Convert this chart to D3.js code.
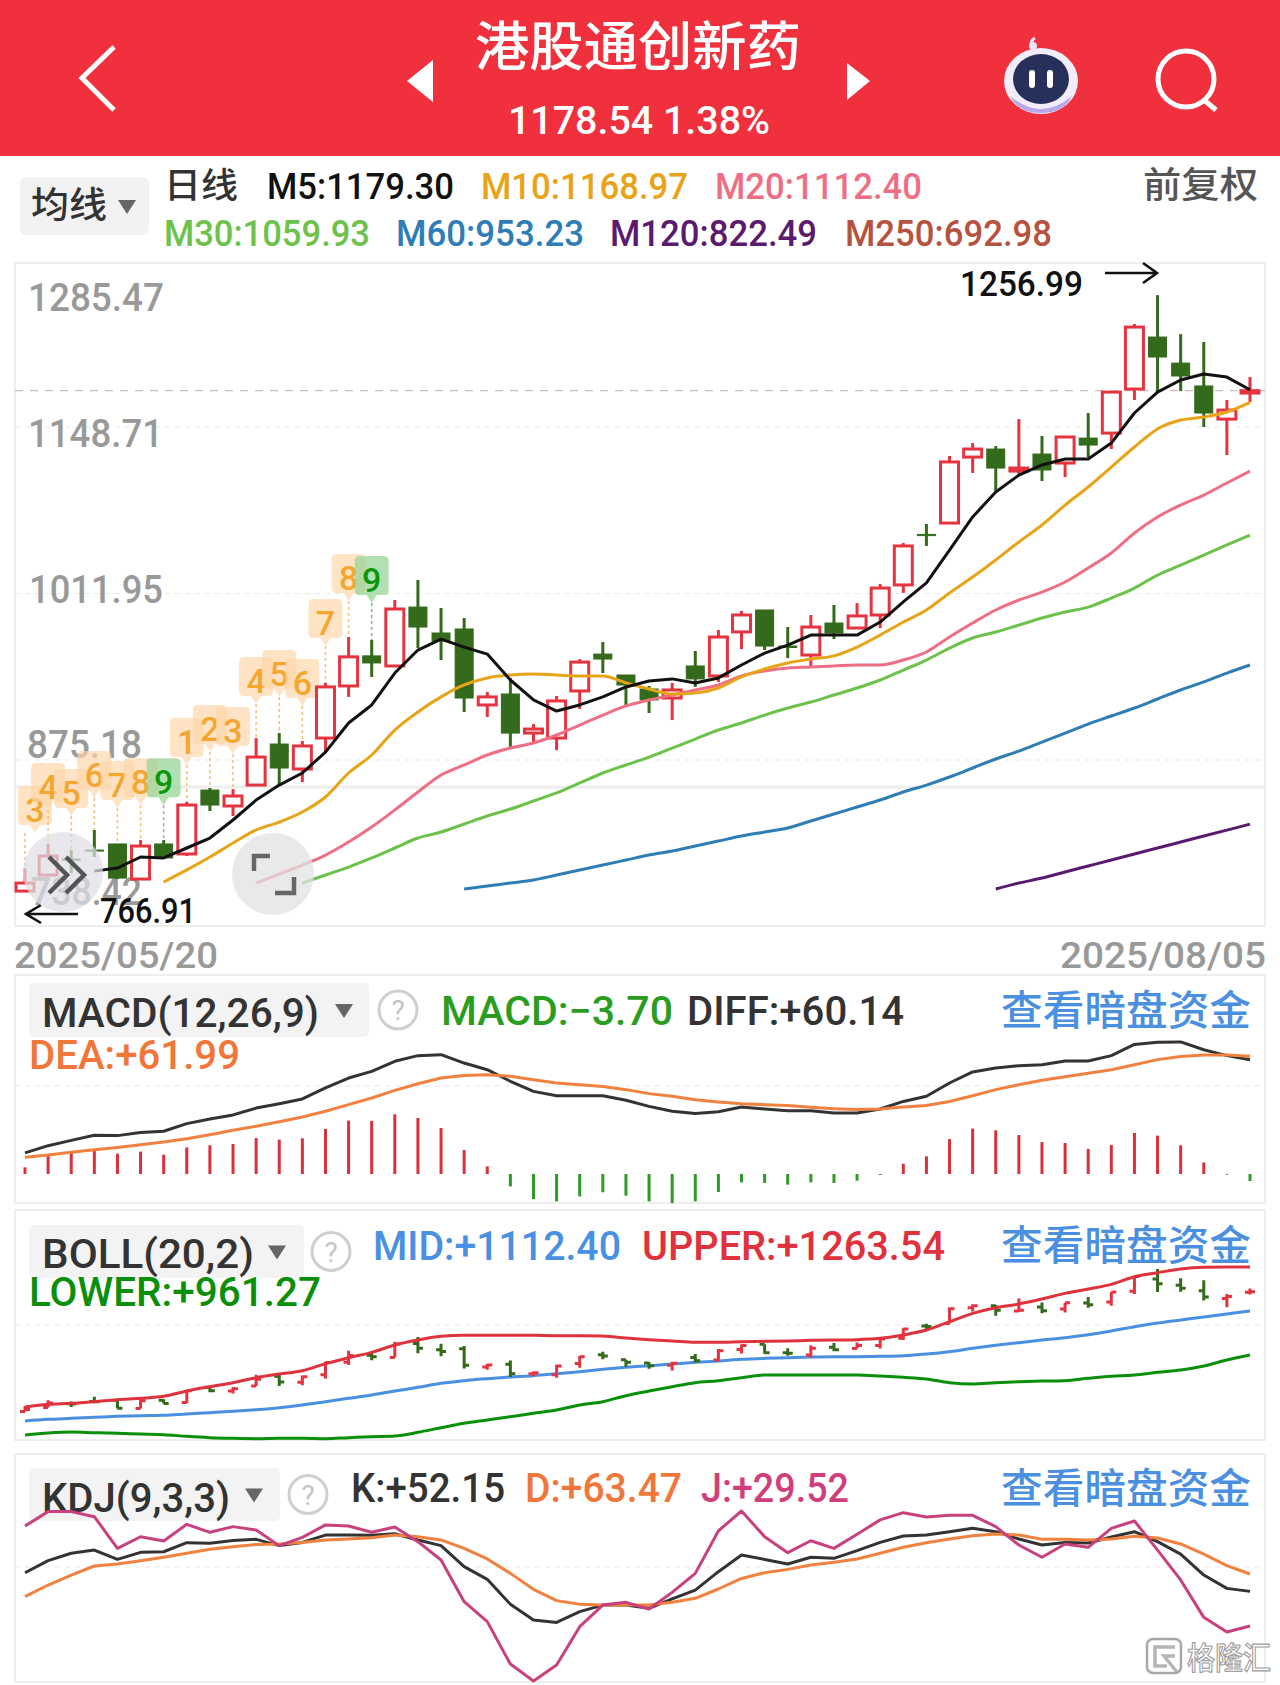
<!DOCTYPE html>
<html>
<head>
<meta charset="utf-8">
<script src="https://cdn.jsdelivr.net/npm/d3@7"></script>
<style>
  html, body { margin: 0; padding: 0; background: #fff; }
  svg { display: block; }
</style>
</head>
<body>
<svg id="canvas" width="1280" height="1685"></svg>
<script>
/************* Data **************/
var opens = [767.5,780.7,793.8,801.2,806.2,777.4,806.2,798.0,850.5,837.4,854.6,888.3,867.8,893.2,936.0,960.7,952.4,1000.8,979.5,982.8,920.4,929.4,897.3,893.2,931.9,962.2,945.0,933.5,926.1,952.4,944.2,980.4,998.4,968.8,961.4,987.7,983.6,994.3,1019.0,1060.5,1069.8,1124.0,1130.6,1112.5,1126.5,1119.1,1139.6,1143.7,1179.9,1222.6,1201.2,1182.4,1155.2,1176.6];
var highs = [786.4,806.2,801.2,817.7,806.2,809.4,809.4,840.7,852.2,851.3,893.2,897.3,890.8,938.5,976.2,973.8,1006.6,1023.0,1000.0,991.8,931.1,942.6,904.7,927.8,958.1,972.1,945.0,936.0,938.5,964.7,982.0,997.6,998.4,984.4,994.3,1002.5,1004.1,1019.8,1053.4,1069.0,1124.9,1135.5,1133.0,1155.2,1141.3,1140.5,1160.2,1177.4,1233.3,1256.99,1225.0,1218.5,1170.9,1189.7];
var lows = [766.91,780.7,782.3,795.5,777.5,777.4,794.7,796.3,833.3,829.2,854.6,854.6,857.0,880.9,927.0,943.4,952.4,967.1,957.3,914.6,910.5,885.8,889.1,883.3,917.2,946.6,920.4,913.8,908.0,935.2,939.3,966.3,965.5,958.9,952.4,974.5,983.6,983.6,1012.4,1051.0,1069.8,1110.9,1096.1,1109.2,1104.3,1107.6,1124.0,1130.6,1170.9,1177.4,1178.2,1148.7,1125.7,1169.2];
var closes = [774.1,796.3,793.0,800.4,778.2,804.5,794.7,838.2,838.2,845.6,877.6,868.6,886.7,935.2,959.9,954.9,999.2,984.4,972.9,926.1,927.0,897.3,900.6,923.7,955.6,958.1,936.8,924.5,932.7,941.8,976.2,994.3,968.8,967.6,984.4,979.5,993.5,1016.4,1051.0,1059.5,1120.0,1130.6,1115.0,1115.0,1113.4,1140.5,1133.9,1177.4,1230.8,1206.2,1190.6,1160.2,1162.6,1178.54];

// moving averages end on the last candle, the leading days are simply missing
var ma5 = [783.9,786.4,795.5,794.7,802.9,811.1,825.9,842.3,854.6,864.5,881.7,905.6,920.4,946.6,965.5,974.5,967.9,962.2,940.9,924.5,915.4,920.4,927.0,935.2,940.1,941.8,938.5,942.6,953.2,963.0,969.6,977.8,977.8,977.8,988.5,1005.0,1020.6,1047.6,1074.8,1095.3,1109.2,1117.5,1122.4,1122.4,1135.5,1160.2,1177.4,1187.3,1192.2,1189.7,1179.3];
var ma10 = [775.0,784.9,795.5,807.0,817.7,824.2,832.5,844.8,864.5,879.3,899.8,914.6,927.0,936.8,942.6,945.0,945.8,945.0,944.2,944.2,938.5,933.5,929.4,930.2,934.3,943.4,949.9,954.9,958.1,960.7,967.9,977.8,988.5,998.4,1012.4,1025.5,1039.5,1054.3,1068.2,1084.6,1099.4,1115.8,1132.3,1147.1,1154.4,1156.9,1161.0,1168.97];
var ma20 = [774.1,781.5,788.9,797.1,807.8,820.1,834.1,848.9,862.9,871.1,879.3,885.0,889.1,895.7,903.9,912.1,919.6,924.5,928.6,932.7,936.8,944.2,948.3,950.7,951.5,952.4,953.2,953.2,957.3,963.9,976.2,987.7,998.4,1006.6,1013.1,1021.4,1032.9,1045.2,1061.6,1074.8,1084.6,1092.8,1102.7,1112.4];
var ma30 = [774.1,780.7,787.2,794.7,802.9,811.1,816.0,822.6,829.2,834.9,841.5,848.1,856.3,864.5,871.1,877.6,885.0,892.4,899.8,905.6,912.1,917.9,922.8,928.6,934.3,940.9,949.1,957.3,967.1,975.4,980.3,986.0,991.8,996.7,1000.8,1008.2,1016.4,1027.1,1035.3,1043.5,1051.8,1059.93];
var ma60 = [769.2,771.7,774.1,776.6,780.7,784.9,788.9,793.0,797.1,800.4,804.5,808.6,812.7,816.0,819.3,825.1,830.8,836.6,842.3,848.9,854.6,861.2,868.6,876.0,882.5,889.9,897.3,904.7,911.3,917.9,925.3,932.7,939.3,946.6,953.23];
var ma120 = [769.2,774.1,778.2,783.2,788.1,793.0,798.0,802.9,807.8,812.7,817.6,822.49];

var priceTicks = [1148.71, 1011.95, 875.18];
var priceLabels = ["1285.47", "1148.71", "1011.95", "875.18", "738.42"];

// TD sequence tags: candle index, count, price level of the tag
var tdIndex = [0,1,2,3,4,5,6,7,8,9,10,11,12,13,14,15];
var tdCount = [3,4,5,6,7,8,9,1,2,3,4,5,6,7,8,9];
var tdLevel = [834.1,853.0,848.1,862.9,854.6,857.0,857.0,890.0,900.6,899.0,940.1,945.8,938.5,987.7,1024.7,1023.0];

var macdBars = [3.5,9.6,11.1,12.8,10.7,11.8,10.2,14.0,15.1,15.8,18.9,18.1,18.8,23.7,28.1,27.9,31.4,29.5,24.2,12.6,4.0,-6.5,-13.2,-14.4,-11.8,-9.6,-11.4,-14.4,-15.3,-14.4,-9.5,-4.4,-4.7,-5.6,-4.4,-4.7,-3.5,-0.5,5.4,9.3,18.4,23.9,23.0,20.5,16.8,16.3,13.2,15.3,21.6,20.2,15.1,6.1,-0.4,-3.7];
var diff = [11.1,14.9,17.7,20.4,20.2,21.9,22.5,26.5,28.9,31.1,34.7,37.0,39.5,45.3,50.5,54.0,59.3,62.3,62.8,58.4,54.9,48.8,43.5,41.2,41.2,41.2,38.8,35.6,33.0,31.8,32.8,35.3,34.2,33.3,33.3,32.1,32.1,34.2,38.2,40.9,47.9,53.7,55.8,57.0,57.5,59.5,59.5,62.3,68.2,69.3,69.5,65.4,62.3,60.14];
var dea = [8.8,10.0,11.4,12.8,14.0,15.4,16.8,18.6,20.7,23.0,25.1,27.5,30.0,33.0,36.5,40.0,44.0,47.5,50.5,51.9,52.3,51.4,49.6,47.9,47.0,46.1,44.4,42.3,40.9,39.1,37.9,37.0,36.5,36.0,35.1,34.4,33.9,34.2,35.3,36.1,38.2,41.2,44.4,47.0,49.3,51.2,53.0,54.9,57.5,60.2,61.8,62.6,62.6,61.99];

var bollUpper = [782.6,791.8,795.2,800.9,807.8,812.4,819.3,837.6,852.5,866.2,883.4,896.0,907.4,931.5,952.1,970.4,995.6,1012.8,1025.4,1028.8,1028.8,1028.8,1028.8,1027.7,1027.7,1026.5,1019.6,1013.9,1009.3,1004.8,1004.8,1007.1,1008.2,1009.3,1011.6,1012.8,1013.9,1018.5,1030.0,1047.1,1075.8,1104.4,1123.9,1136.4,1153.6,1173.1,1188.0,1204.0,1230.3,1244.1,1256.7,1262.4,1263.54,1263.54];
var bollMid = [734.5,740.2,743.7,747.1,750.5,752.8,754.0,758.6,763.1,767.7,773.4,780.3,789.5,800.9,812.4,823.8,837.6,850.2,863.9,873.1,879.9,885.7,890.3,897.1,904.0,912.0,918.9,924.6,930.3,936.1,940.6,946.4,949.8,952.1,954.4,955.5,955.5,956.7,959.0,964.7,972.7,984.1,994.5,1003.6,1012.8,1020.8,1031.1,1043.7,1058.6,1071.2,1081.5,1091.8,1102.1,1112.4];
var bollLower = [686.4,693.3,696.7,694.4,692.2,689.9,687.6,681.8,677.3,675.0,673.8,675.0,675.0,673.8,677.3,680.7,683.0,695.6,711.6,726.5,738.0,749.4,760.9,772.3,789.5,800.9,821.5,837.6,852.5,866.2,873.1,883.4,892.5,892.5,892.5,892.5,892.5,889.1,884.5,878.8,866.2,861.6,866.2,869.6,871.9,873.1,881.1,888.0,892.5,901.7,909.7,923.5,944.1,961.27];

var kdjK = [64.3,72.2,77.0,79.1,73.0,77.6,78.0,83.9,83.5,85.4,86.1,82.0,84.1,88.9,88.9,88.7,89.8,85.7,82.0,68.3,60.0,43.7,33.4,31.9,38.9,43.2,43.2,41.1,47.2,53.0,65.0,75.9,73.0,70.0,74.4,73.7,78.7,84.1,88.3,88.9,91.1,93.3,91.1,86.3,82.4,84.1,83.7,87.6,91.1,84.6,76.5,62.8,54.1,52.15];
var kdjD = [48.7,56.3,62.8,68.7,70.0,72.2,74.4,77.0,79.6,81.3,82.8,83.1,84.1,85.7,86.3,87.2,88.9,87.8,85.7,80.2,73.3,63.9,53.5,46.1,43.7,43.2,43.2,43.2,45.0,47.6,53.7,60.6,64.3,66.5,69.3,71.1,73.3,77.0,80.9,83.9,86.3,88.5,89.6,88.9,86.1,86.1,85.7,86.3,88.1,87.0,83.1,76.5,68.9,63.47];
var kdjJ = [94.8,104.2,104.2,100.9,80.2,87.8,85.0,95.9,90.7,94.4,92.2,82.0,87.4,95.5,94.8,90.7,94.2,84.6,72.6,45.4,32.4,4.7,-6.3,4.1,29.1,43.2,45.0,40.6,51.5,63.9,91.6,104.6,87.8,77.4,85.2,80.2,89.4,98.8,103.5,100.7,101.8,101.8,94.4,82.4,74.4,83.1,80.9,93.3,98.1,79.1,59.6,35.2,25.6,29.52];

/********** Initialisation *********/
var svg = d3.select("#canvas");
var RED = "#e5333f";
var GREEN = "#336a1b";
var LATIN = "Roboto, sans-serif";
var CJK = "'Noto Sans CJK SC', sans-serif";
var n = closes.length;

var x = d3.scaleLinear().domain([0, n - 1]).range([25, 1250]);
var yMain = d3.scaleLinear().domain([738.42, 1285.47]).range([926.5, 260.5]);
var yMacd = d3.scaleLinear().domain([-15, 75]).range([1202.5, 1031.5]);
var yBoll = d3.scaleLinear().domain([669.3, 1459.4]).range([1440, 1210]);
var yKdj = d3.scaleLinear().domain([-6.8, 141.8]).range([1681.7, 1454]);

// text placed by left edge and width, the app font is narrower than Roboto
function label(str, x0, x1, base, size, color, family) {
    return svg.append("text")
        .attr("x", x0 - 2)
        .attr("y", base)
        .attr("textLength", x1 - x0 + 3)
        .attr("lengthAdjust", "spacingAndGlyphs")
        .attr("font-family", family || LATIN)
        .attr("font-weight", 500)
        .attr("font-size", size)
        .attr("fill", color)
        .text(str);
}

function seriesLine(values, yScale, color, curve) {
    var offset = n - values.length;
    var line = d3.line()
        .curve(curve || d3.curveLinear)
        .x(function(d, i) { return x(i + offset); })
        .y(function(d) { return yScale(d); });
    svg.append("path")
        .attr("d", line(values))
        .attr("fill", "none")
        .attr("stroke", color)
        .attr("stroke-width", 3)
        .attr("stroke-linejoin", "round");
}

function frame(top, bottom) {
    svg.append("rect")
        .attr("x", 15).attr("y", top)
        .attr("width", 1250).attr("height", bottom - top)
        .attr("fill", "none").attr("stroke", "#eeeeee").attr("stroke-width", 2);
}

function dashed(y, color) {
    svg.append("line")
        .attr("x1", 15).attr("x2", 1265)
        .attr("y1", y).attr("y2", y)
        .attr("stroke", color || "#e8e8e8")
        .attr("stroke-width", 1.2)
        .attr("stroke-dasharray", color ? "8,7" : "5,5");
}

function dropdown(x0, x1, top, bottom, tri, helpX) {
    svg.append("rect")
        .attr("x", x0).attr("y", top)
        .attr("width", x1 - x0).attr("height", bottom - top)
        .attr("rx", 5).attr("fill", "#f3f3f3");
    var mid = (top + bottom) / 2;
    svg.append("path")
        .attr("d", "M" + (tri - 9) + "," + (mid - 6) + "h18l-9,14z")
        .attr("fill", "#666666");
    svg.append("circle")
        .attr("cx", helpX).attr("cy", mid).attr("r", 19)
        .attr("fill", "#fff").attr("stroke", "#cfcfcf").attr("stroke-width", 3);
    svg.append("text")
        .attr("x", helpX).attr("y", mid + 10)
        .attr("text-anchor", "middle")
        .attr("font-family", LATIN).attr("font-size", 28)
        .attr("fill", "#c4c4c4").text("?");
}

/************ Header **************/
svg.append("rect").attr("width", 1280).attr("height", 156).attr("fill", "#f0303c");

svg.append("path")
    .attr("d", "M114,47L82,78L114,110")
    .attr("fill", "none").attr("stroke", "#fff").attr("stroke-width", 5);
svg.append("path").attr("d", "M433,60L407,81L433,102z").attr("fill", "#fff");
svg.append("path").attr("d", "M847,63L870,81L847,100z").attr("fill", "#fff");

label("港股通创新药", 477, 800, 66, 53, "#fff", CJK);
label("1178.54 1.38%", 510, 769, 134, 38, "#fff");

// robot icon
svg.append("ellipse").attr("cx", 1041).attr("cy", 81).attr("rx", 37).attr("ry", 33).attr("fill", "#f1eefa");
svg.append("path").attr("d", "M1010,96q31,26,62,0q-8,17,-31,17t-31,-17z").attr("fill", "#b9a7ea");
svg.append("path").attr("d", "M1034,50q-6,-8,1,-12").attr("fill", "none").attr("stroke", "#e8e4f5").attr("stroke-width", 3);
svg.append("circle").attr("cx", 1033).attr("cy", 46).attr("r", 4).attr("fill", "#e8e4f5");
svg.append("ellipse").attr("cx", 1041).attr("cy", 79).attr("rx", 28).attr("ry", 25).attr("fill", "#26305a");
svg.append("rect").attr("x", 1029).attr("y", 70).attr("width", 6).attr("height", 18).attr("rx", 3).attr("fill", "#fff");
svg.append("rect").attr("x", 1047).attr("y", 70).attr("width", 6).attr("height", 18).attr("rx", 3).attr("fill", "#fff");

// search icon
svg.append("circle").attr("cx", 1186).attr("cy", 79).attr("r", 28)
    .attr("fill", "none").attr("stroke", "#fff").attr("stroke-width", 5);
svg.append("line").attr("x1", 1204).attr("y1", 100).attr("x2", 1216).attr("y2", 110)
    .attr("stroke", "#fff").attr("stroke-width", 5);

/************ Legend **************/
svg.append("rect").attr("x", 20).attr("y", 177).attr("width", 129).attr("height", 58)
    .attr("rx", 6).attr("fill", "#f2f2f2");
label("均线", 33, 106, 218, 36, "#333", CJK);
svg.append("path").attr("d", "M118,200h18l-9,14z").attr("fill", "#666666");

label("日线", 166, 237, 198, 35, "#333", CJK);
label("M5:1179.30", 269, 453, 199, 36, "#111");
label("M10:1168.97", 483, 687, 199, 36, "#e8a317");
label("M20:1112.40", 717, 921, 199, 36, "#ee6f85");
label("前复权", 1145, 1257, 198, 36, "#555", CJK);
label("M30:1059.93", 166, 369, 246, 36, "#6cc24a");
label("M60:953.23", 398, 583, 246, 36, "#2f7db5");
label("M120:822.49", 612, 816, 246, 36, "#5a1a6e");
label("M250:692.98", 847, 1051, 246, 36, "#b55340");

/********** Main panel ***********/
frame(263, 926);

svg.append("g").selectAll("line")
    .data(priceTicks)
    .enter()
    .append("line")
    .attr("x1", 15).attr("x2", 1265)
    .attr("y1", function(d) { return yMain(d); })
    .attr("y2", function(d) { return yMain(d); })
    .attr("stroke", "#e8e8e8").attr("stroke-width", 1.2).attr("stroke-dasharray", "5,5");

// thick light line across the panel and the dashed last price
svg.append("line").attr("x1", 15).attr("x2", 1265)
    .attr("y1", yMain(853)).attr("y2", yMain(853))
    .attr("stroke", "#eeeeee").attr("stroke-width", 3);
dashed(yMain(closes[n - 1]), "#cdbfb5");

label(priceLabels[0], 30, 163, 311, 38, "#999");
label(priceLabels[1], 30, 162, 447, 38, "#999");
label(priceLabels[2], 31, 162, 603, 38, "#999");
label(priceLabels[3], 29, 141, 758, 38, "#999");
label(priceLabels[4], 33, 141, 905, 38, "#999");
label("2025/05/20", 16, 217, 968, 36, "#999");
label("2025/08/05", 1062, 1265, 968, 36, "#999");

// TD tags go under the candles, the first one is pushed inside the panel
var tags = svg.append("g").selectAll("g")
    .data(tdIndex)
    .enter()
    .append("g")
    .attr("transform", function(d, i) { return "translate(" + x(d) + "," + yMain(tdLevel[i]) + ")"; });

tags.append("path")
    .attr("d", "M-17,-19q0,-5,5,-5h24q5,0,5,5v29q0,5,-5,5h-7l-5,8l-5,-8h-7q-5,0,-5,-5z")
    .attr("transform", function(d) { return d === 0 ? "translate(10,0)" : null; })
    .attr("fill", function(d, i) { return tdCount[i] === 9 ? "rgba(150,212,150,0.72)" : "rgba(253,214,170,0.68)"; });

tags.append("line")
    .attr("x1", 0).attr("x2", 0)
    .attr("y1", 23)
    .attr("y2", function(d, i) { return yMain(highs[d]) - yMain(tdLevel[i]); })
    .attr("stroke", function(d, i) { return tdCount[i] === 9 ? "#8ab98a" : "#f4c27f"; })
    .attr("stroke-width", 1.6)
    .attr("stroke-dasharray", "3,3");

tags.append("text")
    .attr("x", function(d) { return d === 0 ? 10 : 0; })
    .attr("text-anchor", "middle")
    .attr("y", 12)
    .attr("font-family", LATIN)
    .attr("font-weight", 500)
    .attr("font-size", 34)
    .attr("fill", function(d, i) { return tdCount[i] === 9 ? "#0a980a" : "#f4a62e"; })
    .text(function(d, i) { return tdCount[i]; });

/*********** Candles *************/
var candleIdx = d3.range(n);

svg.append("g").selectAll("line")
    .data(candleIdx)
    .enter()
    .append("line")
    .attr("x1", function(i) { return x(i); })
    .attr("x2", function(i) { return x(i); })
    .attr("y1", function(i) { return yMain(highs[i]); })
    .attr("y2", function(i) { return yMain(lows[i]); })
    .attr("stroke", function(i) { return closes[i] >= opens[i] ? RED : GREEN; })
    .attr("stroke-width", 3);

svg.append("g").selectAll("rect")
    .data(candleIdx)
    .enter()
    .append("rect")
    .attr("x", function(i) { return x(i) - 9; })
    .attr("width", 18)
    .attr("y", function(i) { return yMain(Math.max(opens[i], closes[i])); })
    .attr("height", function(i) { return Math.max(1, Math.abs(yMain(opens[i]) - yMain(closes[i]))); })
    .attr("fill", function(i) { return closes[i] >= opens[i] ? "#fff" : GREEN; })
    .attr("stroke", function(i) { return closes[i] >= opens[i] ? RED : GREEN; })
    .attr("stroke-width", function(i) { return closes[i] >= opens[i] ? 3 : 1; });

seriesLine(ma120, yMain, "#5a1a6e", d3.curveMonotoneX);
seriesLine(ma60, yMain, "#2f7db5", d3.curveMonotoneX);
seriesLine(ma30, yMain, "#6cc24a", d3.curveMonotoneX);
seriesLine(ma20, yMain, "#ee6f85", d3.curveMonotoneX);
seriesLine(ma10, yMain, "#e8a317", d3.curveMonotoneX);
seriesLine(ma5, yMain, "#111111");

// high / low markers
label("1256.99", 962, 1082, 296, 35, "#111");
svg.append("path").attr("d", "M1105,273H1157M1143,263L1157,273L1143,283")
    .attr("fill", "none").attr("stroke", "#111").attr("stroke-width", 2.6);
label("766.91", 102, 195, 923, 35, "#111");
svg.append("path").attr("d", "M78,914H26M41,905L26,914L41,923")
    .attr("fill", "none").attr("stroke", "#111").attr("stroke-width", 2.6);

// floating round buttons
svg.append("circle").attr("cx", 63).attr("cy", 872).attr("r", 40).attr("fill", "rgba(222,222,228,0.72)");
svg.append("path").attr("d", "M49,857L67,875L49,893M66,857L84,875L66,893")
    .attr("fill", "none").attr("stroke", "#555").attr("stroke-width", 4.5);
svg.append("circle").attr("cx", 273).attr("cy", 874).attr("r", 41).attr("fill", "rgba(226,226,226,0.75)");
svg.append("path").attr("d", "M254,871V856H270M275,893H294V877")
    .attr("fill", "none").attr("stroke", "#666").attr("stroke-width", 4.5);

/************ MACD ***************/
frame(975, 1203);
dashed(1086);
dropdown(29, 369, 983, 1037, 344, 398);
label("MACD(12,26,9)", 44, 318, 1027, 40, "#333");
label("MACD:−3.70", 443, 672, 1025, 40, "#2a9d1e");
label("DIFF:+60.14", 689, 903, 1025, 40, "#333");
label("查看暗盘资金", 1003, 1250, 1025, 41, "#4a8fe0", CJK);
label("DEA:+61.99", 31, 239, 1069, 40, "#f0763a");

svg.append("g").selectAll("line")
    .data(macdBars)
    .enter()
    .append("line")
    .attr("x1", function(d, i) { return x(i); })
    .attr("x2", function(d, i) { return x(i); })
    .attr("y1", yMacd(0))
    .attr("y2", function(d) { return yMacd(d); })
    .attr("stroke", function(d) { return d >= 0 ? "#d9303c" : "#2f9a25"; })
    .attr("stroke-width", 3);

seriesLine(diff, yMacd, "#333333");
seriesLine(dea, yMacd, "#f0813f");

/************ BOLL ***************/
frame(1210, 1440);
dashed(1325);
dropdown(29, 304, 1225, 1278, 277, 331);
label("BOLL(20,2)", 44, 253, 1268, 40, "#333");
label("MID:+1112.40", 375, 620, 1260, 40, "#4a90e2");
label("UPPER:+1263.54", 644, 944, 1260, 40, "#e0323c");
label("查看暗盘资金", 1003, 1250, 1260, 41, "#4a8fe0", CJK);
label("LOWER:+961.27", 31, 320, 1306, 40, "#0a8f0a");

seriesLine(bollLower, yBoll, "#0a8f0a", d3.curveMonotoneX);
seriesLine(bollMid, yBoll, "#4a90e2", d3.curveMonotoneX);

// small open / close bars
svg.append("g").selectAll("path")
    .data(candleIdx)
    .enter()
    .append("path")
    .attr("d", function(i) {
        return "M" + x(i) + "," + yBoll(highs[i]) + "V" + yBoll(lows[i]) +
            "M" + (x(i) - 5) + "," + yBoll(opens[i]) + "H" + x(i) +
            "M" + x(i) + "," + yBoll(closes[i]) + "H" + (x(i) + 5);
    })
    .attr("fill", "none")
    .attr("stroke", function(i) { return closes[i] >= opens[i] ? RED : GREEN; })
    .attr("stroke-width", 3);

seriesLine(bollUpper, yBoll, "#e0323c", d3.curveMonotoneX);

/************* KDJ ***************/
frame(1454, 1682);
dashed(1567);
dropdown(29, 280, 1468, 1521, 254, 308);
label("KDJ(9,3,3)", 44, 229, 1512, 40, "#333");
label("K:+52.15", 353, 504, 1502, 40, "#333");
label("D:+63.47", 527, 681, 1502, 40, "#f0763a");
label("J:+29.52", 703, 848, 1502, 40, "#cf3f7c");
label("查看暗盘资金", 1003, 1250, 1503, 41, "#4a8fe0", CJK);

seriesLine(kdjK, yKdj, "#333333");
seriesLine(kdjD, yKdj, "#f0813f");
seriesLine(kdjJ, yKdj, "#c9407f");

/********** Watermark ************/
svg.append("rect").attr("x", 1147).attr("y", 1639).attr("width", 34).attr("height", 34).attr("rx", 6)
    .attr("fill", "#fff").attr("stroke", "#a8a8a8").attr("stroke-width", 2.5);
svg.append("path").attr("d", "M1175,1647H1155V1666H1167M1175,1656H1164L1177,1672")
    .attr("fill", "none").attr("stroke", "#b5b5b5").attr("stroke-width", 3.5);
label("格隆汇", 1189, 1270, 1669, 31, "#fff", CJK)
    .attr("stroke", "#a0a0a0").attr("stroke-width", 1.2);
</script>
</body>
</html>
